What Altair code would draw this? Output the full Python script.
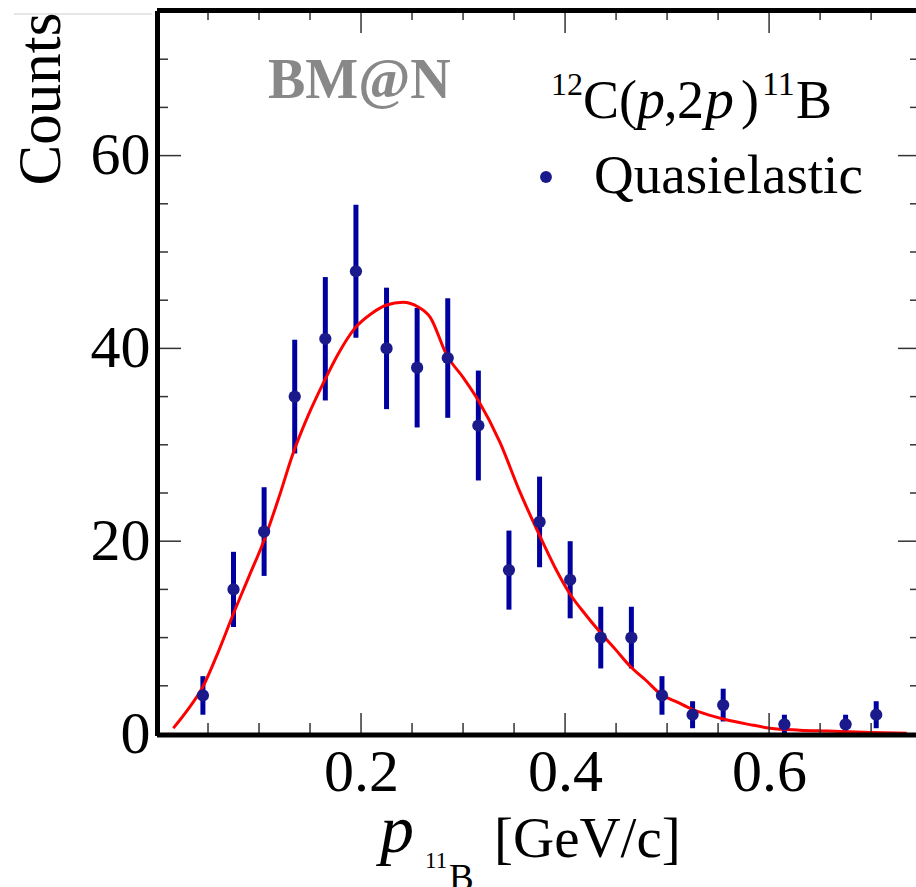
import altair as alt
import pandas as pd

# ---- data ----
p_centers = [0.045, 0.075, 0.105, 0.135, 0.165, 0.195, 0.225, 0.255, 0.285, 0.315,
             0.345, 0.375, 0.405, 0.435, 0.465, 0.495, 0.525, 0.555, 0.615, 0.675, 0.705]
counts = [4, 15, 21, 35, 41, 48, 40, 38, 39, 32,
          17, 22, 16, 10, 10, 4, 2, 3, 1, 1, 2]
errors = [2.0, 3.9, 4.6, 5.9, 6.4, 6.9, 6.3, 6.2, 6.2, 5.7,
          4.1, 4.7, 4.0, 3.2, 3.2, 2.0, 1.4, 1.7, 1.0, 1.0, 1.4]

fit_x = [0.016, 0.03, 0.045, 0.06, 0.075, 0.09, 0.105, 0.12, 0.133, 0.148, 0.163, 0.178,
         0.194, 0.21, 0.225, 0.241, 0.256, 0.268, 0.284, 0.3, 0.315, 0.336, 0.355, 0.375,
         0.39, 0.405, 0.42, 0.434, 0.45, 0.464, 0.48, 0.493, 0.51, 0.526, 0.543, 0.559,
         0.58, 0.601, 0.63, 0.657, 0.7, 0.735]
fit_y = [0.6, 2.5, 4.9, 8.5, 12.5, 16.3, 20.1, 24.7, 29.0, 33.0, 36.4, 39.5,
         42.1, 43.6, 44.5, 44.8, 44.3, 43.2, 39.3, 37.0, 34.6, 30.3, 25.3, 20.6,
         17.3, 14.5, 12.4, 10.6, 8.7, 7.0, 5.5, 4.2, 3.3, 2.5, 1.9, 1.45,
         1.0, 0.6, 0.4, 0.3, 0.15, 0.08]

y_major = [0, 20, 40, 60]
y_minor = [5, 10, 15, 25, 30, 35, 45, 50, 55, 65, 70, 75]
x_major = [0.2, 0.4, 0.6]
x_minor = [0.05, 0.1, 0.15, 0.25, 0.3, 0.35, 0.45, 0.5, 0.55, 0.65, 0.7]

# ---- layout ----
W, H = 759, 723
FONT = "Liberation Serif"
BAR_COL = "#0000a0"
PT_COL = "#1a1a8c"

pts = pd.DataFrame({"p": p_centers, "n": counts, "e": errors})
pts["lo"] = (pts["n"] - pts["e"]).clip(lower=0)
pts["hi"] = pts["n"] + pts["e"]
fit = pd.DataFrame({"p": fit_x, "f": fit_y})

xs = alt.Scale(domain=[0, 0.744], nice=False, zero=False)
ys = alt.Scale(domain=[0, 75], nice=False, zero=False)

xaxis = alt.Axis(values=x_major, format=".1f", ticks=False, domain=False, grid=False,
                 labelFont=FONT, labelFontSize=60, labelColor="black", labelPadding=9,
                 title=None, labelFlush=False)
yaxis = alt.Axis(values=y_major, format="d", ticks=False, domain=False, grid=False,
                 labelFont=FONT, labelFontSize=60, labelColor="black", labelPadding=7,
                 title=None, labelFlush=False)

base_axes = alt.Chart(pts).mark_point(opacity=0).encode(
    x=alt.X("p:Q", scale=xs, axis=xaxis),
    y=alt.Y("n:Q", scale=ys, axis=yaxis),
)

bars = alt.Chart(pts).mark_rule(color=BAR_COL, strokeWidth=5, clip=True).encode(
    x=alt.X("p:Q", scale=xs), y=alt.Y("lo:Q", scale=ys), y2="hi:Q")
dots = alt.Chart(pts).mark_circle(color=PT_COL, opacity=1, size=150, clip=True).encode(
    x=alt.X("p:Q", scale=xs), y=alt.Y("n:Q", scale=ys))
curve = alt.Chart(fit).mark_line(color="#ff0000", strokeWidth=3, interpolate="monotone",
                                 clip=True).encode(
    x=alt.X("p:Q", scale=xs), y=alt.Y("f:Q", scale=ys))

TICK_COL = "#333333"


def yticks(vals, x1, x2):
    return alt.Chart(pd.DataFrame({"v": vals})).mark_rule(
        color=TICK_COL, strokeWidth=1.5).encode(
        y=alt.Y("v:Q", scale=ys), x=alt.value(x1), x2=alt.value(x2))


def xticks(vals, y1, y2):
    return alt.Chart(pd.DataFrame({"v": vals})).mark_rule(
        color=TICK_COL, strokeWidth=1.5).encode(
        x=alt.X("v:Q", scale=xs), y=alt.value(y1), y2=alt.value(y2))


ticks = [
    yticks(y_major, 0, 24), yticks(y_minor, 0, 11),
    yticks(y_major, 741, W), yticks(y_minor, 753, W),
    xticks(x_major, H, H - 21), xticks(x_minor, H, H - 11),
    xticks(x_major, 0, 22), xticks(x_minor, 0, 9),
]

one = pd.DataFrame({"a": [0]})
frame = [
    alt.Chart(one).mark_rule(color="black", strokeWidth=5).encode(
        x=alt.value(0.5), y=alt.value(0), y2=alt.value(H + 2)),
    alt.Chart(one).mark_rule(color="black", strokeWidth=5).encode(
        x=alt.value(0), x2=alt.value(W), y=alt.value(-0.5)),
    alt.Chart(one).mark_rule(color="black", strokeWidth=5).encode(
        x=alt.value(0), x2=alt.value(W), y=alt.value(H + 1)),
    alt.Chart(one).mark_rule(color="#cccccc", strokeWidth=1).encode(
        x=alt.value(-143), x2=alt.value(-5), y=alt.value(3)),
]


def txt(s, x, y, size, italic=False, bold=False, color="black", align="left", angle=0):
    kw = dict(font=FONT, fontSize=size, color=color, align=align, baseline="alphabetic")
    if italic:
        kw["fontStyle"] = "italic"
    if bold:
        kw["fontWeight"] = "bold"
    if angle:
        kw["angle"] = angle
    return alt.Chart(pd.DataFrame({"t": [s]})).mark_text(**kw).encode(
        x=alt.value(x), y=alt.value(y), text="t:N")


OX, OY = 157, 11  # plot origin in page pixels
texts = [
    txt("Counts", 60 - OX, 99 - OY, 61, align="center", angle=270),
    txt("BM@N", 268 - OX, 98 - OY, 56, bold=True, color="#888888"),
    txt("12", 551 - OX, 95 - OY, 32),
    txt("C", 583 - OX, 118 - OY, 54),
    txt("(", 619 - OX, 118 - OY, 54),
    txt("p", 637 - OX, 118 - OY, 56, italic=True),
    txt(",", 664 - OX, 118 - OY, 54),
    txt("2", 677 - OX, 118 - OY, 54),
    txt("p", 705 - OX, 118 - OY, 58, italic=True),
    txt(")", 741 - OX, 118 - OY, 54),
    txt("11", 762 - OX, 95 - OY, 34),
    txt("B", 796 - OX, 118 - OY, 54),
    txt("Quasielastic", 594 - OX, 193 - OY, 55),
    txt("p", 380 - OX, 852 - OY, 68, italic=True),
    txt("11", 425 - OX, 868 - OY, 23),
    txt("B", 449 - OX, 890 - OY, 37),
    txt("[GeV/c]", 494 - OX, 857 - OY, 57),
]
legend_dot = alt.Chart(one).mark_circle(color=PT_COL, opacity=1, size=140).encode(
    x=alt.value(546 - OX), y=alt.value(177 - OY))

chart = alt.layer(base_axes, bars, curve, dots, *ticks, *frame, *texts, legend_dot).properties(
    width=W, height=H,
    autosize=alt.AutoSizeParams(type="none"),
    padding={"left": OX, "top": OY, "right": 916 - OX - W, "bottom": 887 - OY - H},
    background="white",
).configure_view(stroke=None)

chart.save("out.html", embed_options={"renderer": "svg", "actions": False})
